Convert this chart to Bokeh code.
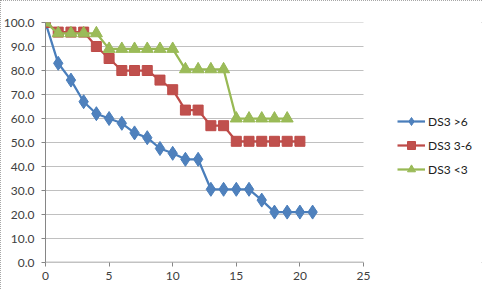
from bokeh.plotting import figure
from bokeh.models import Legend, LegendItem, FixedTicker, NumeralTickFormatter, Range1d
from bokeh.embed import file_html
from bokeh.resources import INLINE

# Data
x_gt6 = list(range(0, 22))
y_gt6 = [100, 83, 76, 67, 62, 60, 58, 54, 52, 47.5, 45.5, 43, 43, 30.5, 30.5, 30.5, 30.5, 26, 21, 21, 21, 21]
x_3_6 = list(range(0, 21))
y_3_6 = [100, 96, 96, 96, 90, 85, 80, 80, 80, 76, 72, 63.5, 63.5, 57, 57, 50.5, 50.5, 50.5, 50.5, 50.5, 50.5]
x_lt3 = list(range(0, 20))
y_lt3 = [100, 95.5, 95.5, 95.5, 95.5, 89, 89, 89, 89, 89, 89, 80.5, 80.5, 80.5, 80.5, 60, 60, 60, 60, 60]

labels = ["DS3 >6", "DS3 3-6", "DS3 <3"]
x_ticks = [0, 5, 10, 15, 20, 25]
y_ticks = [0, 10, 20, 30, 40, 50, 60, 70, 80, 90, 100]

FONT = "Lato"
TXT = "#404040"
AXIS = "#868686"

W, H = 482, 289
LEFT = 45
PLOT_W = 318  # pixel width of the 0..25 axis span
x_max_axis = x_ticks[-1]
x_end = x_max_axis * (W - LEFT) / PLOT_W

p = figure(width=W, height=H, output_backend="svg", toolbar_location=None,
           x_range=Range1d(0, x_end), y_range=Range1d(0, 100))
p.min_border_left = LEFT
p.min_border_right = 0
p.min_border_top = 22
p.min_border_bottom = 27
p.outline_line_color = None
p.background_fill_color = "white"
p.border_fill_color = "white"
p.styles = {"outline": "1px dotted #8a8a8a", "outline-offset": "-1px"}

p.xgrid.grid_line_color = None
p.ygrid.grid_line_color = None

for ax in (p.xaxis[0], p.yaxis[0]):
    ax.axis_line_color = AXIS
    ax.major_tick_line_color = AXIS
    ax.minor_tick_line_color = None
    ax.major_tick_in = 0
    ax.major_tick_out = 4
    ax.major_label_text_font = FONT
    ax.major_label_text_font_size = "12px"
    ax.major_label_text_color = TXT
p.xaxis.major_label_standoff = 5
p.yaxis.major_label_standoff = 7
p.xaxis.axis_line_color = None

p.xaxis.ticker = FixedTicker(ticks=x_ticks)
p.yaxis.ticker = FixedTicker(ticks=y_ticks)
p.yaxis.formatter = NumeralTickFormatter(format="0.0")

# horizontal gridlines and x axis line, limited to the 0..25 span
gy = y_ticks[1:]
p.segment(x0=[x_ticks[0]] * len(gy), x1=[x_max_axis] * len(gy), y0=gy, y1=gy,
          line_color="#c0c0c0", line_width=1)
p.segment(x0=[x_ticks[0]], x1=[x_max_axis], y0=[y_ticks[0]], y1=[y_ticks[0]],
          line_color=AXIS, line_width=1.5)

series = [
    (x_gt6, y_gt6, "#4a7ebb", "#4f81bd", "diamond", 14),
    (x_3_6, y_3_6, "#be4b48", "#c0504d", "square", 10),
    (x_lt3, y_lt3, "#98b954", "#9bbb59", "triangle", 12),
]
items = []
for (xs, ys, lc, fc, mk, sz), lab in zip(series, labels):
    r1 = p.line(xs, ys, line_color=lc, line_width=2.25)
    r2 = p.scatter(xs, ys, marker=mk, size=sz, fill_color=fc, line_color=lc, line_width=1)
    items.append(LegendItem(label=lab, renderers=[r1, r2]))

legend = Legend(items=items, location=(352, 83), orientation="vertical")
legend.margin = 0
legend.padding = 0
legend.border_line_color = None
legend.background_fill_alpha = 0
legend.glyph_width = 28
legend.glyph_height = 20
legend.spacing = 4
legend.label_standoff = 3
legend.label_text_font = FONT
legend.label_text_font_size = "12px"
legend.label_text_color = "#202020"
legend.label_height = 20
p.add_layout(legend, "center")

open("out.html", "w").write(file_html(p, INLINE))
